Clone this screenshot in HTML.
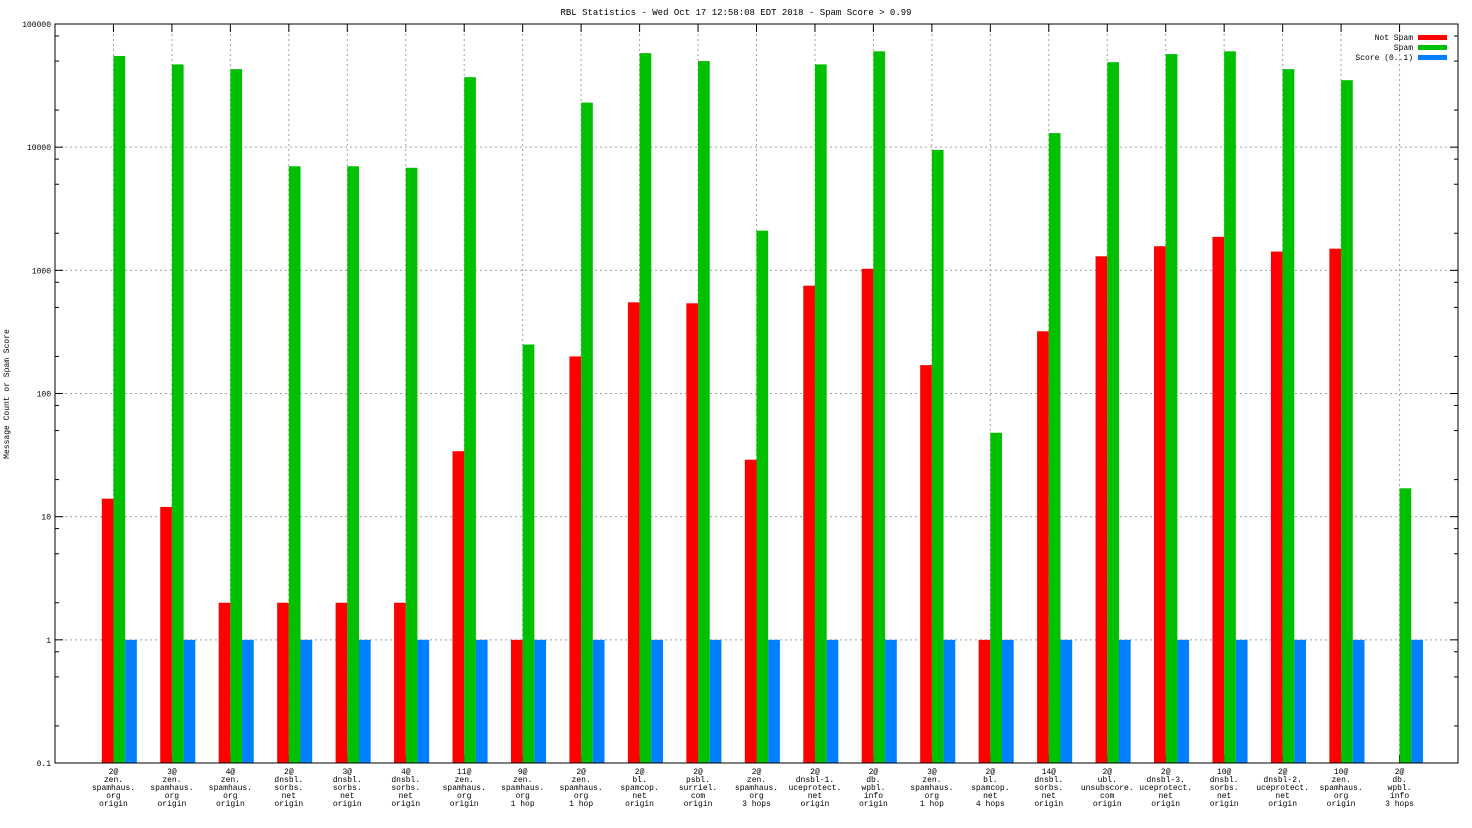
<!DOCTYPE html>
<html><head><meta charset="utf-8"><style>
html,body{margin:0;padding:0;background:#fff;}
svg{display:block;font-family:"Liberation Mono","DejaVu Sans Mono",monospace;}
</style></head><body>
<svg id="chart" width="1472" height="828" viewBox="0 0 1472 828"></svg>
<script>
const categories = [
 ["2@","zen.","spamhaus.","org","origin"],
 ["3@","zen.","spamhaus.","org","origin"],
 ["4@","zen.","spamhaus.","org","origin"],
 ["2@","dnsbl.","sorbs.","net","origin"],
 ["3@","dnsbl.","sorbs.","net","origin"],
 ["4@","dnsbl.","sorbs.","net","origin"],
 ["11@","zen.","spamhaus.","org","origin"],
 ["9@","zen.","spamhaus.","org","1 hop"],
 ["2@","zen.","spamhaus.","org","1 hop"],
 ["2@","bl.","spamcop.","net","origin"],
 ["2@","psbl.","surriel.","com","origin"],
 ["2@","zen.","spamhaus.","org","3 hops"],
 ["2@","dnsbl-1.","uceprotect.","net","origin"],
 ["2@","db.","wpbl.","info","origin"],
 ["3@","zen.","spamhaus.","org","1 hop"],
 ["2@","bl.","spamcop.","net","4 hops"],
 ["14@","dnsbl.","sorbs.","net","origin"],
 ["2@","ubl.","unsubscore.","com","origin"],
 ["2@","dnsbl-3.","uceprotect.","net","origin"],
 ["10@","dnsbl.","sorbs.","net","origin"],
 ["2@","dnsbl-2.","uceprotect.","net","origin"],
 ["10@","zen.","spamhaus.","org","origin"],
 ["2@","db.","wpbl.","info","3 hops"]
];
const notSpam = [14,12,2,2,2,2,34,1,200,550,540,29,750,1030,170,1,320,1300,1570,1870,1420,1500,0];
const spam = [55000,47000,43000,7000,7000,6800,37000,250,23000,58000,50000,2100,47000,60000,9500,48,13000,49000,57000,60000,43000,35000,17];
const score = [1,1,1,1,1,1,1,1,1,1,1,1,1,1,1,1,1,1,1,1,1,1,1];
const yTicks = [0.1,1,10,100,1000,10000,100000];
const yTickLabels = ["0.1","1","10","100","1000","10000","100000"];
const minorMult = [2,5,8];

const NS="http://www.w3.org/2000/svg";
const svg=document.getElementById('chart');
const L=55,R=1458,T=24,B=763;
const yMin=Math.log10(0.1),yMax=Math.log10(100000);
function y(v){return B-(Math.log10(v)-yMin)/(yMax-yMin)*(B-T);}
const xMin=-1,xMax=23;
function x(i){return L+(i-xMin)/(xMax-xMin)*(R-L);}
const bw=(R-L)/(xMax-xMin)/5;
function el(tag,attrs,parent){const e=document.createElementNS(NS,tag);for(const k in attrs)e.setAttribute(k,attrs[k]);(parent||svg).appendChild(e);return e;}

const t=el('text',{x:736,y:15,'text-anchor':'middle','font-size':9});
t.textContent='RBL Statistics - Wed Oct 17 12:58:08 EDT 2018 - Spam Score > 0.99';


const yt=el('text',{x:0,y:0,'text-anchor':'middle','font-size':8,transform:'translate(9,394) rotate(-90)'});
yt.textContent='Message Count or Spam Score';



yTicks.forEach((v,k)=>{
 const yy=y(v);
 if(k>0&&k<yTicks.length-1){const g=el('line',{x1:L,x2:R,y1:yy,y2:yy,stroke:'#a0a0a0','stroke-dasharray':'2,3','stroke-width':1});
 
 }
 el('line',{x1:L,x2:L+8,y1:yy,y2:yy,stroke:'#000'});
 el('line',{x1:R,x2:R-8,y1:yy,y2:yy,stroke:'#000'});
 if(k<yTicks.length-1){minorMult.forEach(m=>{const ym=y(v*m);el('line',{x1:L,x2:L+4,y1:ym,y2:ym,stroke:'#000'});el('line',{x1:R,x2:R-4,y1:ym,y2:ym,stroke:'#000'});});}
 const lb=el('text',{x:L-4,y:yy+3,'text-anchor':'end','font-size':8});
 lb.textContent=yTickLabels[k];
 
 
});

categories.forEach((c,i)=>{
 const cx=x(i);
 const g=el('line',{x1:cx,x2:cx,y1:T,y2:B,stroke:'#a0a0a0','stroke-dasharray':'2,3'});
 
 
 el('line',{x1:cx,x2:cx,y1:B,y2:B-8,stroke:'#000'});
 el('line',{x1:cx,x2:cx,y1:T,y2:T+8,stroke:'#000'});
 const series=[[notSpam[i],'#ff0000','bar-not-spam'],[spam[i],'#00c000','bar-spam'],[score[i],'#0080ff','bar-score']];
 series.forEach((s,j)=>{
  if(s[0]>0){const top=y(s[0]);
  const r=el('rect',{x:cx-bw+j*bw,y:top,width:bw,height:B-top,fill:s[1]});
  
  }
 });
 const tx=el('text',{x:cx,y:774,'text-anchor':'middle','font-size':8});
 
 
 c.forEach((line,k)=>{const ts=el('tspan',{x:cx,dy:k?8:0},tx);ts.textContent=line;});
});

const bd=el('rect',{x:L,y:T,width:R-L,height:B-T,fill:'none',stroke:'#000','stroke-width':1});



const leg=[['Not Spam','#ff0000'],['Spam','#00c000'],['Score (0..1)','#0080ff']];
leg.forEach((e,k)=>{
 const yy=37+k*10;
 const lt=el('text',{x:1413,y:yy+3,'text-anchor':'end','font-size':8});
 lt.textContent=e[0];
 
 
 const ls=el('rect',{x:1418,y:yy-2,width:29,height:5,fill:e[1]});
 
 
});
</script>
</body></html>
